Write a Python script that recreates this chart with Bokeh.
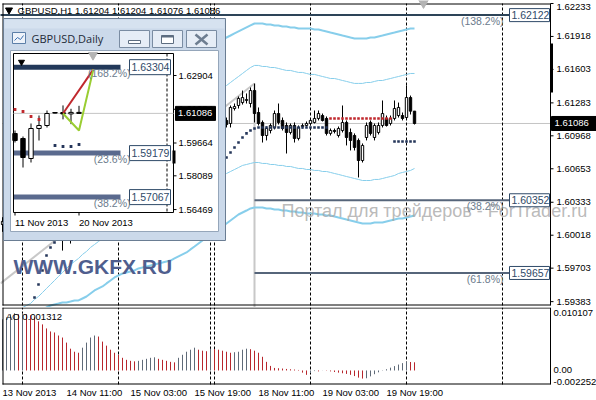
import math
from bokeh.plotting import figure
from bokeh.layouts import column
from bokeh.models import Range1d
from bokeh.embed import file_html
from bokeh.resources import INLINE
from bokeh.core.properties import value

NaN = float("nan")

# ---------------- H1 chart data (bar 0 = 13 Nov 2013 19:00) ----------------
h1_open = [1.60120, 1.60150, 1.60210, 1.60140, 1.60090, 1.60160, 1.60250, 1.60190, 1.60110, 1.60060,
           1.60120, 1.60180, 1.60100, 1.60040, 1.60080, 1.60030, 1.60060, 1.60150, 1.60010, 1.60140,
           1.60260, 1.60350, 1.60410, 1.60490, 1.60450, 1.60520, 1.60600, 1.60570, 1.60530, 1.60580,
           1.60670, 1.60720, 1.60690, 1.60660, 1.60700, 1.60790, 1.60830, 1.60800, 1.60770, 1.60810,
           1.60880, 1.60920, 1.60890, 1.60860, 1.60910, 1.60980, 1.61020, 1.61000, 1.60970, 1.61010,
           1.61070, 1.61110, 1.61080, 1.61060, 1.61090, 1.61140, 1.61115, 1.61086, 1.61229, 1.61258,
           1.61286, 1.61306, 1.61277, 1.61401, 1.61191, 1.61096, 1.60971, 1.61019, 1.61048, 1.61181,
           1.61115, 1.61067, 1.61000, 1.61067, 1.60943, 1.61057, 1.61067, 1.61086, 1.61096, 1.61134,
           1.61162, 1.61134, 1.60991, 1.61019, 1.60971, 1.61019, 1.61096, 1.61000, 1.60971, 1.60924,
           1.60732, 1.60952, 1.61096, 1.60952, 1.61000, 1.61067, 1.61134, 1.61086, 1.61134, 1.61162,
           1.61162, 1.61143, 1.61334, 1.61204]
h1_high = [1.60190, 1.60240, 1.60260, 1.60200, 1.60180, 1.60280, 1.60300, 1.60230, 1.60170, 1.60150,
           1.60210, 1.60220, 1.60140, 1.60110, 1.60120, 1.60090, 1.60180, 1.60200, 1.60170, 1.60290,
           1.60380, 1.60440, 1.60520, 1.60560, 1.60540, 1.60640, 1.60660, 1.60620, 1.60610, 1.60700,
           1.60760, 1.60780, 1.60750, 1.60730, 1.60820, 1.60870, 1.60880, 1.60850, 1.60840, 1.60900,
           1.60960, 1.60980, 1.60940, 1.60930, 1.61010, 1.61060, 1.61080, 1.61050, 1.61040, 1.61100,
           1.61150, 1.61160, 1.61130, 1.61120, 1.61170, 1.61180, 1.61143, 1.61258, 1.61277, 1.61344,
           1.61401, 1.61373, 1.61430, 1.61468, 1.61239, 1.61115, 1.61057, 1.61086, 1.61210, 1.61277,
           1.61143, 1.61096, 1.61086, 1.61096, 1.61067, 1.61086, 1.61105, 1.61134, 1.61210, 1.61210,
           1.61181, 1.61153, 1.61038, 1.61038, 1.61057, 1.61258, 1.61115, 1.61038, 1.60991, 1.60943,
           1.60895, 1.61096, 1.61115, 1.61086, 1.61096, 1.61306, 1.61162, 1.61162, 1.61306, 1.61286,
           1.61191, 1.61449, 1.61353, 1.61204]
h1_low = [1.60050, 1.60100, 1.60120, 1.60060, 1.60040, 1.60130, 1.60170, 1.60080, 1.60030, 1.60020,
          1.60070, 1.60080, 1.60010, 1.60005, 1.60010, 1.59871, 1.60020, 1.59938, 1.60000, 1.60110,
          1.60220, 1.60300, 1.60370, 1.60420, 1.60400, 1.60480, 1.60530, 1.60490, 1.60470, 1.60550,
          1.60630, 1.60650, 1.60610, 1.60600, 1.60680, 1.60740, 1.60760, 1.60730, 1.60720, 1.60780,
          1.60840, 1.60860, 1.60820, 1.60810, 1.60880, 1.60940, 1.60960, 1.60930, 1.60920, 1.60980,
          1.61030, 1.61050, 1.61020, 1.61010, 1.61060, 1.61090, 1.61048, 1.61048, 1.61210, 1.61229,
          1.61267, 1.61277, 1.61239, 1.61096, 1.61067, 1.60904, 1.60924, 1.60991, 1.61029, 1.61076,
          1.61019, 1.60799, 1.60981, 1.60904, 1.60924, 1.61038, 1.61057, 1.61067, 1.61086, 1.61115,
          1.61105, 1.60971, 1.60971, 1.60991, 1.60952, 1.61000, 1.60876, 1.60828, 1.60828, 1.60570,
          1.60713, 1.60924, 1.60971, 1.60924, 1.60981, 1.61048, 1.61057, 1.61067, 1.61115, 1.61143,
          1.61115, 1.61124, 1.61172, 1.61076]
h1_close = [1.60150, 1.60210, 1.60140, 1.60090, 1.60160, 1.60250, 1.60190, 1.60110, 1.60060, 1.60120,
            1.60180, 1.60100, 1.60040, 1.60080, 1.60030, 1.60060, 1.60150, 1.60010, 1.60140, 1.60260,
            1.60350, 1.60410, 1.60490, 1.60450, 1.60520, 1.60600, 1.60570, 1.60530, 1.60580, 1.60670,
            1.60720, 1.60690, 1.60660, 1.60700, 1.60790, 1.60830, 1.60800, 1.60770, 1.60810, 1.60880,
            1.60920, 1.60890, 1.60860, 1.60910, 1.60980, 1.61020, 1.61000, 1.60970, 1.61010, 1.61070,
            1.61110, 1.61080, 1.61060, 1.61090, 1.61140, 1.61115, 1.61076, 1.61239, 1.61248, 1.61325,
            1.61334, 1.61315, 1.61401, 1.61181, 1.61086, 1.60971, 1.61038, 1.61067, 1.61181, 1.61096,
            1.61038, 1.61000, 1.61067, 1.60943, 1.61048, 1.61067, 1.61086, 1.61115, 1.61134, 1.61181,
            1.61115, 1.60991, 1.61019, 1.61010, 1.61038, 1.61096, 1.60952, 1.60924, 1.60857, 1.60732,
            1.60876, 1.61067, 1.60991, 1.61067, 1.61067, 1.61181, 1.61067, 1.61134, 1.61229, 1.61239,
            1.61134, 1.61334, 1.61204, 1.61086]

# Parabolic SAR dots (NaN = hidden behind the daily window, not readable)
sar_value = ([NaN] * 8 +
             [1.59423, 1.59547, 1.59681, 1.59824, 1.59900, 1.59948] +
             [NaN] * 42 +
             [1.60761, 1.60809, 1.60857, 1.60904, 1.60952, 1.60991, 1.61019, 1.61038,
              1.61048, 1.61048, 1.61048, 1.61048, 1.61048, 1.61048, 1.61048, 1.61048, 1.61048,
              1.61048, 1.61048, 1.61048, 1.61048, 1.61048, 1.61048, 1.61048, 1.61048, 1.61048,
              1.61134, 1.61134, 1.61134, 1.61134, 1.61134, 1.61134, 1.61134, 1.61134,
              1.61134, 1.61134, 1.61134, 1.61134, 1.61134, 1.61134, 1.61134, 1.61134,
              1.60914, 1.60914, 1.60914, 1.60914, 1.60914, 1.60914])
sar_trend = ["up"] * 82 + ["down"] * 16 + ["up"] * 6

# Bollinger-type bands
bb_outer_upper = [NaN] * 54 + [
    1.61860, 1.61889, 1.61908, 1.61927, 1.61947, 1.61966, 1.61985, 1.62004, 1.62023, 1.62042,
    1.62042, 1.62042, 1.62033, 1.62033, 1.62023, 1.62023, 1.62013, 1.62013, 1.62004, 1.62004,
    1.61994, 1.61994, 1.61994, 1.61994, 1.61985, 1.61985, 1.61975, 1.61966, 1.61956, 1.61947,
    1.61937, 1.61927, 1.61918, 1.61908, 1.61899, 1.61899, 1.61899, 1.61899, 1.61908, 1.61908,
    1.61918, 1.61927, 1.61937, 1.61947, 1.61956, 1.61966, 1.61975, 1.61985, 1.61994, 1.61994]
bb_inner_upper = [NaN] * 54 + [
    1.61402, 1.61430, 1.61449, 1.61478, 1.61507, 1.61535, 1.61564, 1.61593, 1.61621, 1.61641,
    1.61641, 1.61631, 1.61631, 1.61621, 1.61621, 1.61612, 1.61602, 1.61593, 1.61593, 1.61583,
    1.61574, 1.61574, 1.61564, 1.61555, 1.61555, 1.61545, 1.61535, 1.61526, 1.61516, 1.61516,
    1.61507, 1.61497, 1.61488, 1.61478, 1.61469, 1.61469, 1.61469, 1.61478, 1.61478, 1.61488,
    1.61497, 1.61497, 1.61507, 1.61516, 1.61526, 1.61535, 1.61545, 1.61555, 1.61564, 1.61564]
bb_inner_lower = [
    1.59203, 1.59231, 1.59260, 1.59289, 1.59308, 1.59327, 1.59346, 1.59365, 1.59404, 1.59432,
    1.59470, 1.59509, 1.59547, 1.59585, 1.59624, 1.59662, 1.59700, 1.59738, 1.59767, 1.59796,
    1.59834, 1.59863, 1.59901, 1.59929, 1.59958, 1.59987, 1.60015, 1.60044, 1.60073, 1.60101,
    1.60130, 1.60159, 1.60187, 1.60216, 1.60235, 1.60254, 1.60283, 1.60302, 1.60321, 1.60340,
    1.60360, 1.60379, 1.60398, 1.60417, 1.60436, 1.60455, 1.60474, 1.60493, 1.60513, 1.60522,
    1.60541, 1.60551, 1.60570, 1.60579, 1.60589, 1.60599, 1.60608, 1.60627, 1.60646, 1.60665,
    1.60685, 1.60694, 1.60704, 1.60713, 1.60713, 1.60704, 1.60704, 1.60694, 1.60694, 1.60685,
    1.60685, 1.60675, 1.60675, 1.60665, 1.60656, 1.60656, 1.60646, 1.60646, 1.60637, 1.60637,
    1.60627, 1.60627, 1.60618, 1.60608, 1.60599, 1.60589, 1.60579, 1.60570, 1.60560, 1.60551,
    1.60541, 1.60541, 1.60541, 1.60551, 1.60551, 1.60560, 1.60570, 1.60579, 1.60589, 1.60608,
    1.60618, 1.60627, 1.60637, 1.60656]
bb_outer_lower = [
    1.59107, 1.59126, 1.59146, 1.59165, 1.59184, 1.59203, 1.59222, 1.59241, 1.59260, 1.59289,
    1.59308, 1.59327, 1.59346, 1.59356, 1.59365, 1.59375, 1.59375, 1.59384, 1.59394, 1.59394,
    1.59413, 1.59432, 1.59461, 1.59490, 1.59509, 1.59528, 1.59557, 1.59585, 1.59614, 1.59633,
    1.59652, 1.59662, 1.59671, 1.59681, 1.59700, 1.59709, 1.59719, 1.59728, 1.59738, 1.59748,
    1.59757, 1.59767, 1.59776, 1.59796, 1.59815, 1.59834, 1.59853, 1.59882, 1.59910, 1.59939,
    1.59968, 1.59987, 1.60015, 1.60044, 1.60073, 1.60101, 1.60130, 1.60159, 1.60187, 1.60216,
    1.60235, 1.60254, 1.60274, 1.60283, 1.60283, 1.60283, 1.60274, 1.60274, 1.60264, 1.60264,
    1.60254, 1.60254, 1.60245, 1.60245, 1.60235, 1.60235, 1.60226, 1.60226, 1.60226, 1.60216,
    1.60216, 1.60207, 1.60207, 1.60197, 1.60187, 1.60178, 1.60168, 1.60159, 1.60149, 1.60139,
    1.60130, 1.60130, 1.60130, 1.60139, 1.60139, 1.60139, 1.60149, 1.60159, 1.60168, 1.60178,
    1.60178, 1.60187, 1.60197, 1.60207]

# Awesome Oscillator
ao_value = [
    0.008211, 0.008537, 0.009024, 0.009187, 0.009024, 0.009187, 0.009024, 0.008862, 0.008537, 0.007886,
    0.007398, 0.006748, 0.006260, 0.006098, 0.005610, 0.005285, 0.004472, 0.003496, 0.003008, 0.002846,
    0.003659, 0.004472, 0.005285, 0.005610, 0.005447, 0.004634, 0.003984, 0.003333, 0.002846, 0.002520,
    0.002033, 0.001707, 0.001545, 0.001463, 0.001545, 0.001707, 0.001870, 0.002033, 0.002114, 0.001870,
    0.001707, 0.001545, 0.001382, 0.001301, 0.002033, 0.002520, 0.003008, 0.003333, 0.003659, 0.003333,
    0.003171, 0.003089, 0.003496, 0.003415, 0.003333, 0.003171, 0.003008, 0.002846, 0.002927, 0.003008,
    0.003333, 0.003496, 0.003415, 0.003171, 0.002846, 0.002195, 0.001382, 0.000732, 0.000407, 0.000358,
    0.000309, 0.000244, 0.000195, 0.000146, 0.000081, -0.00035, -0.00070, -0.00040, -0.00010, -0.00015,
    0.00002, -0.00005, -0.00015, -0.00025, -0.00035, -0.00045, -0.00055, -0.00070, -0.00090, -0.00115,
    -0.00130, -0.00125, -0.00095, -0.00060, -0.00030, -0.00005, 0.00020, 0.00045, 0.00070, 0.00095,
    0.00118, 0.00140, 0.00136, 0.001312]
ao_axis_max = 0.010107
ao_axis_min = -0.002252

separator_bars = [5, 29, 52, 53, 77, 101, 125]
time_tick_bars = [0, 16, 32, 48, 64, 80, 96]
time_tick_labels = ["13 Nov 2013", "14 Nov 11:00", "15 Nov 03:00", "15 Nov 19:00",
                    "18 Nov 11:00", "19 Nov 03:00", "19 Nov 19:00"]
price_ticks = [1.62233, 1.61918, 1.61603, 1.61283, 1.60968, 1.60653, 1.60333, 1.60018, 1.59703, 1.59383]
price_min, price_max = 1.59346, 1.62233

# Fibonacci expansion on H1
fibo_levels = [1.62122, 1.60352, 1.59657]
fibo_ratios = ["(138.2%)", "(38.2%)", "(61.8%)"]
fibo_level_start = [-2.0, 63.0, 63.0]
fibo_level_end = 126.75
fibo_pts_bar = [-0.5, 63.0, 63.0]
fibo_pts_price = [1.59557, 1.61468, 1.58500]

# ---------------- Daily sub-window data (day 0 = 11 Nov 2013) ----------------
d_open = [1.60120, 1.59880, 1.58920, 1.60360, 1.60504, 1.61128, 1.61128, 1.61060, 1.61134]
d_high = [1.60264, 1.59976, 1.60600, 1.60984, 1.61224, 1.61128, 1.61468, 1.61306, 1.61449]
d_low = [1.59688, 1.58488, 1.58728, 1.59784, 1.60408, 1.61080, 1.60799, 1.60570, 1.61076]
d_close = [1.59784, 1.58968, 1.60360, 1.60504, 1.61080, 1.61100, 1.61060, 1.61134, 1.61086]
d_sar_day = [0, 1, 2, 3, 5, 6, 7, 8]
d_sar = [1.61272, 1.61176, 1.60936, 1.60792, 1.59544, 1.59496, 1.59496, 1.59592]
d_sar_trend = ["down", "down", "down", "down", "up", "up", "up", "up"]
d_price_ticks = [1.62904, 1.61284, 1.59664, 1.58089, 1.56469]
d_levels = [1.63304, 1.59179, 1.57067]
d_ratios = ["(168.2%)", "(23.6%)", "(38.2%)"]
d_exp_day = [6.0, 9.8, 8.0]
d_exp_price = [1.61080, 1.63200, 1.60264]
d_date_days = [0, 8]
d_date_labels = ["11 Nov 2013", "20 Nov 2013"]
d_separator_days = [19]

# ---------------- layout / styling helpers ----------------
FONT = "Liberation Sans"
NAVY = "#25365a"
RED = "#c0282d"
SKY = "#87CEEB"
W = 596
MAIN_H = 307
AO_H = 93
PY = (price_max - price_min) / 302.0      # price per pixel (chart box spans y 3..305)
DY = 0.00048                              # daily price per pixel inside the sub-window
AY = (ao_axis_max - ao_axis_min) / 77.0   # AO units per pixel (AO box spans y 307..384)


def bar_at(px):      # pixel x -> bar index (4 px per hourly bar)
    return (px - 2.0) / 4.0


def day_at(px):      # pixel x -> day index in the sub-window (8 px per daily bar)
    return (px - 14.5) / 8.0


def txt(fig, x, y, s, size="9.5px", color="black", align="left", baseline="middle",
        font=FONT, style="normal", xr="px", yr="py", alpha=1.0):
    fig.text(x=[x], y=[y], text=[s], text_font=value(font), text_font_size=value(size),
             text_color=color, text_align=align, text_baseline=baseline,
             text_font_style=style, text_alpha=alpha, x_range_name=xr, y_range_name=yr)


def box(fig, l, r, t, b, fill, line, lw=1.0, xr="px", yr="py"):
    fig.quad(left=[l], right=[r], top=[t], bottom=[b], fill_color=fill, line_color=line,
             line_width=lw, x_range_name=xr, y_range_name=yr)


def seg(fig, x0, y0, x1, y1, color="black", lw=1.0, dash="solid", xr="px", yr="py"):
    fig.segment(x0=[x0], y0=[y0], x1=[x1], y1=[y1], line_color=color, line_width=lw,
                line_dash=dash, x_range_name=xr, y_range_name=yr)


n = len(h1_close)
bars = list(range(n))
x_range = Range1d(bar_at(0), bar_at(W))

# ================= main (price) panel =================
main = figure(width=W, height=MAIN_H, x_range=x_range,
              y_range=Range1d(price_max - (MAIN_H - 3) * PY, price_max + 3 * PY),
              x_axis_location=None, y_axis_location=None,
              output_backend="svg", toolbar_location=None, min_border=0,
              background_fill_color="white", border_fill_color="white",
              outline_line_color=None)
main.grid.visible = False
main.extra_x_ranges = {"px": Range1d(0.0, W), "dx": Range1d(day_at(0), day_at(W))}
main.extra_y_ranges = {"py": Range1d(MAIN_H, 0.0),
                       "dy": Range1d(d_price_ticks[0] - (MAIN_H - 75) * DY,
                                     d_price_ticks[0] + 75 * DY)}

# bid line and period separators
main.segment(x0=[bar_at(2)], x1=[bar_at(550)], y0=[h1_close[-1]], y1=[h1_close[-1]],
             line_color="#c4c4c4", line_width=1)
main.segment(x0=separator_bars, x1=separator_bars, y0=[305] * len(separator_bars),
             y1=[3] * len(separator_bars), line_color="black", line_dash="3 2",
             line_width=1, y_range_name="py")

# fibo expansion trend lines
main.line(x=fibo_pts_bar[:2], y=fibo_pts_price[:2], line_color="#c8c8c8", line_width=2)
main.line(x=fibo_pts_bar[1:], y=fibo_pts_price[1:], line_color="#c8c8c8", line_width=2)

# bands
main.line(bars, bb_outer_upper, line_color=SKY, line_width=2)
main.line(bars, bb_outer_lower, line_color=SKY, line_width=2)
main.line(bars, bb_inner_upper, line_color=SKY, line_width=1)
main.line(bars, bb_inner_lower, line_color=SKY, line_width=1)

# fibo level lines
level_colors = ["#2d4458", "#56657a", "#56657a"]
main.segment(x0=fibo_level_start, x1=[fibo_level_end] * len(fibo_levels),
             y0=fibo_levels, y1=fibo_levels, line_color=level_colors, line_width=2)

# candles
body_top = [max(o, c) for o, c in zip(h1_open, h1_close)]
body_bot = [min(o, c) for o, c in zip(h1_open, h1_close)]
body_fill = ["white" if c >= o else "black" for o, c in zip(h1_open, h1_close)]
main.segment(x0=bars, x1=bars, y0=h1_low, y1=h1_high, line_color="black", line_width=1)
main.vbar(x=bars, width=0.6, top=body_top, bottom=body_bot, fill_color=body_fill,
          line_color="black", line_width=1)

# SAR
sar_colors = [NAVY if t == "up" else RED for t in sar_trend]
main.scatter(bars, sar_value, marker="square", size=2.6, fill_color=sar_colors, line_color=None)

# chart box and price axis
seg(main, 2.5, 3, 2.5, 305)
seg(main, 2, 3.5, 550, 3.5)
seg(main, 2, 304.5, 550, 304.5)
seg(main, 550, 3, 550, 305)
main.segment(x0=[550] * len(price_ticks), x1=[553] * len(price_ticks), y0=price_ticks,
             y1=price_ticks, line_color="black", x_range_name="px")
for t in price_ticks:
    if t >= price_max:
        txt(main, 556, t, "%.5f" % t, baseline="top", xr="px", yr="default")
    else:
        txt(main, 556, t, "%.5f" % t, xr="px", yr="default")

# watermark
txt(main, 281, 210, "Портал для трейдеров - ForTrader.ru", size="18px", color="#a8a8a8",
    alpha=0.8)

# fibo level boxes and ratios
for lvl, ratio in zip(fibo_levels, fibo_ratios):
    box(main, 509, 549, lvl + 6.5 * PY, lvl - 6.5 * PY, "white", "#2f4a68", xr="px", yr="default")
    txt(main, 511, lvl, "%.5f" % lvl, size="10.5px", color="#2f4a68", xr="px", yr="default")
    txt(main, 503, lvl, ratio, size="10.5px", color="#6b7b8c", align="right",
        baseline="top", xr="px", yr="default")

# current price box and scale marker on the axis
box(main, 551, 596, h1_close[-1] + 7 * PY, h1_close[-1] - 7 * PY, "black", "black",
    xr="px", yr="default")
txt(main, 554, h1_close[-1], "%.5f" % h1_close[-1], color="white", xr="px", yr="default")
box(main, 549.5, 552.5, 43, 92, "black", None)

# header
main.scatter([8.5], [9.5], marker="inverted_triangle", size=7, color="black",
             x_range_name="px", y_range_name="py")
header = "GBPUSD,H1 %.5f %.5f %.5f %.5f" % (h1_open[-1], h1_high[-1], h1_low[-1], h1_close[-1])
txt(main, 17, 9.5, header)
main.scatter([423], [1], marker="inverted_triangle", size=12, color="#b4b4b4",
             x_range_name="px", y_range_name="py")

# ---------------- Daily window chrome ----------------
box(main, 3, 225, 18, 240, "#cbd9ea", "#6a7d93")
box(main, 4, 224, 19, 28, "#d6e2f0", None)
box(main, 10, 218, 50, 231, "white", "#95a6ba")
box(main, 12, 25, 32, 43, "#eef3fa", "#5c7fa8")
main.line([14, 17, 20, 23], [40, 37, 39, 35], line_color="#3c6fb0", line_width=1,
          x_range_name="px", y_range_name="py")
txt(main, 31, 38, "GBPUSD,Daily", size="11px", color="#1e2a38", font="Open Sans")
for l, r in [(119, 149), (152, 182), (186, 216)]:
    box(main, l, r, 30, 47, "#e6edf6", "#7a8ca2")
box(main, 128, 140, 40, 43, "white", "#5d6d80")
box(main, 161, 173, 35, 43, "white", "#5d6d80")
seg(main, 161, 36, 173, 36, color="#5d6d80", lw=2)
seg(main, 195, 34, 207, 44, color="#6d7d90", lw=2.5)
seg(main, 195, 44, 207, 34, color="#6d7d90", lw=2.5)

# ---------------- Daily chart contents ----------------
box(main, 13, 173, 53, 212, None, "black")
main.segment(x0=d_separator_days, x1=d_separator_days, y0=[53], y1=[212], line_color="black",
             line_dash="3 2", x_range_name="dx", y_range_name="py")
main.segment(x0=[13], x1=[173], y0=[d_close[-1]], y1=[d_close[-1]], line_color="#c4c4c4",
             x_range_name="px", y_range_name="dy")
d_level_colors = ["#22395a", "#5a6a8e", "#5a6a8e"]
main.segment(x0=[13.5] * 3, x1=[120] * 3, y0=d_levels, y1=d_levels, line_color=d_level_colors,
             line_width=5, x_range_name="px", y_range_name="dy")
days = list(range(len(d_close)))
d_top = [max(o, c) for o, c in zip(d_open, d_close)]
d_bot = [min(o, c) for o, c in zip(d_open, d_close)]
d_fill = ["white" if c >= o else "black" for o, c in zip(d_open, d_close)]
main.segment(x0=days, x1=days, y0=d_low, y1=d_high, line_color="black", line_width=1,
             x_range_name="dx", y_range_name="dy")
main.vbar(x=days, width=0.55, top=d_top, bottom=d_bot, fill_color=d_fill, line_color="black",
          line_width=1, x_range_name="dx", y_range_name="dy")
main.scatter(d_sar_day, d_sar, marker="square", size=2.8,
             fill_color=[NAVY if t == "up" else RED for t in d_sar_trend], line_color=None,
             x_range_name="dx", y_range_name="dy")
main.line(d_exp_day[:2], d_exp_price[:2], line_color="#c0282d", line_width=2,
          x_range_name="dx", y_range_name="dy")
main.line([d_exp_day[0], d_exp_day[2], d_exp_day[1]],
          [d_exp_price[0], d_exp_price[2], d_exp_price[1]], line_color="#9ACD32", line_width=2,
          x_range_name="dx", y_range_name="dy")
for lvl, ratio in zip(d_levels, d_ratios):
    box(main, 129, 170, lvl + 7.5 * DY, lvl - 7.5 * DY, "white", "#2f4a68", xr="px", yr="dy")
    txt(main, 131, lvl, "%.5f" % lvl, size="10.5px", color="#2f4a68", xr="px", yr="dy")
    txt(main, 130, lvl, ratio, size="10.5px", color="#6b7b8c", align="right", baseline="top",
        xr="px", yr="dy")
main.scatter([21], [61.5], marker="inverted_triangle", size=6, color="black",
             x_range_name="px", y_range_name="py")
main.scatter([92.5], [54.5], marker="inverted_triangle", size=9, color="#b4b4b4",
             x_range_name="px", y_range_name="py")
main.segment(x0=[173] * len(d_price_ticks), x1=[176] * len(d_price_ticks), y0=d_price_ticks,
             y1=d_price_ticks, line_color="black", x_range_name="px", y_range_name="dy")
for t in d_price_ticks:
    txt(main, 178, t, "%.5f" % t, xr="px", yr="dy")
box(main, 175, 215, d_close[-1] + 7 * DY, d_close[-1] - 7 * DY, "black", "black", xr="px", yr="dy")
txt(main, 177.5, d_close[-1], "%.5f" % d_close[-1], color="white", xr="px", yr="dy")
box(main, 172, 175, 150, 163, "black", None)
main.segment(x0=d_date_days, x1=d_date_days, y0=[212, 212], y1=[215, 215], line_color="black",
             x_range_name="dx", y_range_name="py")
for d, s in zip(d_date_days, d_date_labels):
    txt(main, d, 222, s, xr="dx", yr="py")

txt(main, 13, 266, "WWW.GKFX.RU", size="21px", color="#4f5e8e", style="bold")

# ================= AO panel =================
ao = figure(width=W, height=AO_H, x_range=x_range,
            y_range=Range1d(ao_axis_max - AO_H * AY, ao_axis_max),
            x_axis_location=None, y_axis_location=None,
            output_backend="svg", toolbar_location=None, min_border=0,
            background_fill_color="white", border_fill_color="white",
            outline_line_color=None)
ao.grid.visible = False
ao.extra_x_ranges = {"px": Range1d(0.0, W)}
ao.extra_y_ranges = {"py": Range1d(307.0 + AO_H, 307.0)}

ao.segment(x0=separator_bars, x1=separator_bars, y0=[ao_axis_min] * len(separator_bars),
           y1=[ao_axis_max] * len(separator_bars), line_color="black", line_dash="3 2",
           line_width=1)
ao_colors = []
for k, v in enumerate(ao_value):
    ao_colors.append("#5f6a78" if k == 0 or v >= ao_value[k - 1] else "#b8262c")
ao.segment(x0=bars, x1=bars, y0=[0.0] * n, y1=ao_value, line_color=ao_colors, line_width=1)

seg(ao, 2.5, 307, 2.5, 384)
seg(ao, 2, 307.5, 550, 307.5)
seg(ao, 2, 383.5, 550, 383.5)
seg(ao, 550, 307, 550, 384)
txt(ao, 5.5, 315.5, "AO %.6f" % ao_value[-1])
txt(ao, 553, ao_axis_max - 2 * AY, "%.6f" % ao_axis_max, baseline="top", xr="px", yr="default")
txt(ao, 553, 0.0, "0.00", xr="px", yr="default")
txt(ao, 553, ao_axis_min, "%.6f" % ao_axis_min, baseline="bottom", xr="px", yr="default")
for b, s in zip(time_tick_bars, time_tick_labels):
    txt(ao, b, 392, s, xr="default", yr="py")

layout = column(main, ao, spacing=0)
open("out.html", "w").write(file_html(layout, INLINE))
